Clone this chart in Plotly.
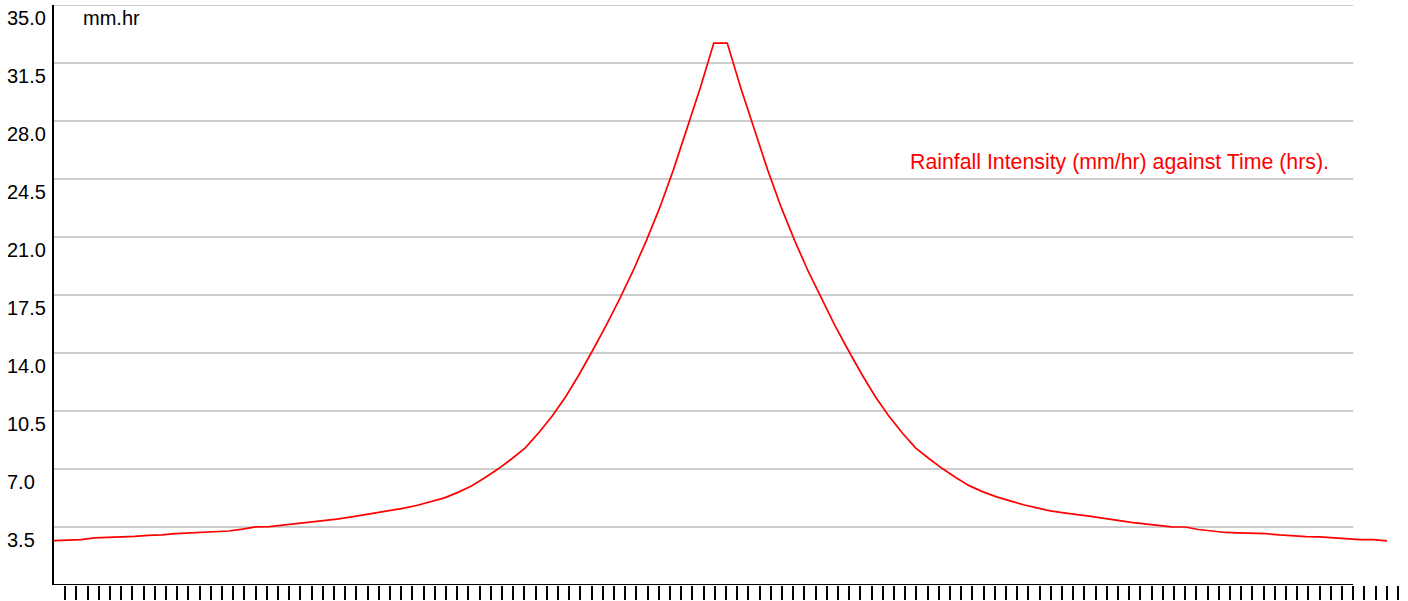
import plotly.graph_objects as go

# ---- data ----
intensity = [2.68, 2.72, 2.74, 2.84, 2.86, 2.92, 2.94, 3.00, 3.02, 3.10,
             3.13, 3.19, 3.19, 3.26, 3.37, 3.51, 3.52, 3.61, 3.69, 3.77,
             3.85, 3.97, 4.10, 4.23, 4.35, 4.50, 4.64, 4.81, 5.04, 5.26,
             5.59, 5.98, 6.47, 7.01, 7.62, 8.28, 9.19, 10.2, 11.36, 12.7,
             14.15, 15.65, 17.25, 18.95, 20.8, 22.8, 25.05, 27.5, 30.0, 32.7,
             32.7, 30.0, 27.5, 25.05, 22.8, 20.8, 18.95, 17.25, 15.65, 14.15,
             12.7, 11.36, 10.2, 9.17, 8.26, 7.62, 7.01, 6.47, 5.98, 5.62,
             5.32, 5.08, 4.84, 4.65, 4.47, 4.35, 4.26, 4.14, 4.02, 3.89,
             3.78, 3.69, 3.60, 3.51, 3.50, 3.35, 3.26, 3.17, 3.14, 3.13,
             3.10, 3.02, 2.96, 2.92, 2.90, 2.84, 2.82, 2.74, 2.74, 2.66]
time_steps = list(range(len(intensity)))

y_tick_values = [3.5, 7.0, 10.5, 14.0, 17.5, 21.0, 24.5, 28.0, 31.5, 35.0]
y_tick_labels = ["3.5", "7.0", "10.5", "14.0", "17.5", "21.0", "24.5", "28.0", "31.5", "35.0"]
unit_label = "mm.hr"
title_text = "Rainfall Intensity (mm/hr) against Time (hrs)."
n_time_ticks = 120
axis_end_tick = 116

# ---- layout geometry ----
W, H = 1408, 601
ML, MR, MT, MB = 54, 0, 5, 16
plot_w = W - ML - MR
step_px = 13.465   # pixel distance between data points
tick_px = 11.2     # pixel distance between x ticks

FONT = "Liberation Sans, Arial, sans-serif"

fig = go.Figure()
fig.add_trace(go.Scatter(
    x=time_steps, y=intensity, mode="lines",
    line=dict(color="#ff0000", width=1.7),
    hoverinfo="skip", showlegend=False, xaxis="x", yaxis="y",
))
# invisible trace on the tick axis so it is drawn
fig.add_trace(go.Scatter(x=[0], y=[0], mode="markers", marker=dict(opacity=0),
                         hoverinfo="skip", showlegend=False, xaxis="x2", yaxis="y"))

shapes = []
for v in y_tick_values:
    shapes.append(dict(type="line", xref="x2", yref="y", x0=0, x1=axis_end_tick,
                       y0=v, y1=v, line=dict(color="#9a9a9a", width=1), layer="below"))
shapes.append(dict(type="line", xref="x2", yref="y", x0=0, x1=axis_end_tick,
                   y0=0, y1=0, line=dict(color="#000000", width=2), layer="above"))

annotations = []
for v, t in zip(y_tick_values, y_tick_labels):
    annotations.append(dict(text=t, xref="paper", yref="y", x=(5 - ML) / plot_w, y=v,
                            xanchor="left", yanchor="middle", yshift=-12.5, showarrow=False,
                            font=dict(family=FONT, size=20, color="#000000")))
annotations.append(dict(text=unit_label, xref="paper", yref="y", x=(81 - ML) / plot_w, y=35.0,
                        xanchor="left", yanchor="middle", yshift=-12.5, showarrow=False,
                        font=dict(family=FONT, size=20, color="#000000")))
annotations.append(dict(text=title_text, xref="paper", yref="paper", x=(908 - ML) / plot_w,
                        y=(H - MB - 162) / (H - MT - MB), xanchor="left", yanchor="middle",
                        showarrow=False, font=dict(family=FONT, size=21.3, color="#ff0000")))

fig.update_layout(
    width=W, height=H, autosize=False,
    margin=dict(l=ML, r=MR, t=MT, b=MB, pad=0),
    paper_bgcolor="white", plot_bgcolor="white",
    font=dict(family=FONT, size=20, color="#000000"),
    xaxis=dict(range=[0, plot_w / step_px], visible=False, fixedrange=True),
    xaxis2=dict(range=[0, plot_w / tick_px], overlaying="x", anchor="y", side="bottom",
                tickvals=list(range(1, n_time_ticks + 1)), ticks="outside", ticklen=14,
                tickwidth=1.6, tickcolor="#000000", showticklabels=False,
                showgrid=False, zeroline=False, showline=False, fixedrange=True),
    yaxis=dict(range=[0, 35], showline=True, linewidth=2, linecolor="#000000",
               showgrid=False, zeroline=False, showticklabels=False, ticks="",
               fixedrange=True),
    shapes=shapes, annotations=annotations,
)

fig.write_html("out.html", config={"displayModeBar": False},
               post_script="document.body.style.margin='0';document.body.style.overflow='hidden';")
